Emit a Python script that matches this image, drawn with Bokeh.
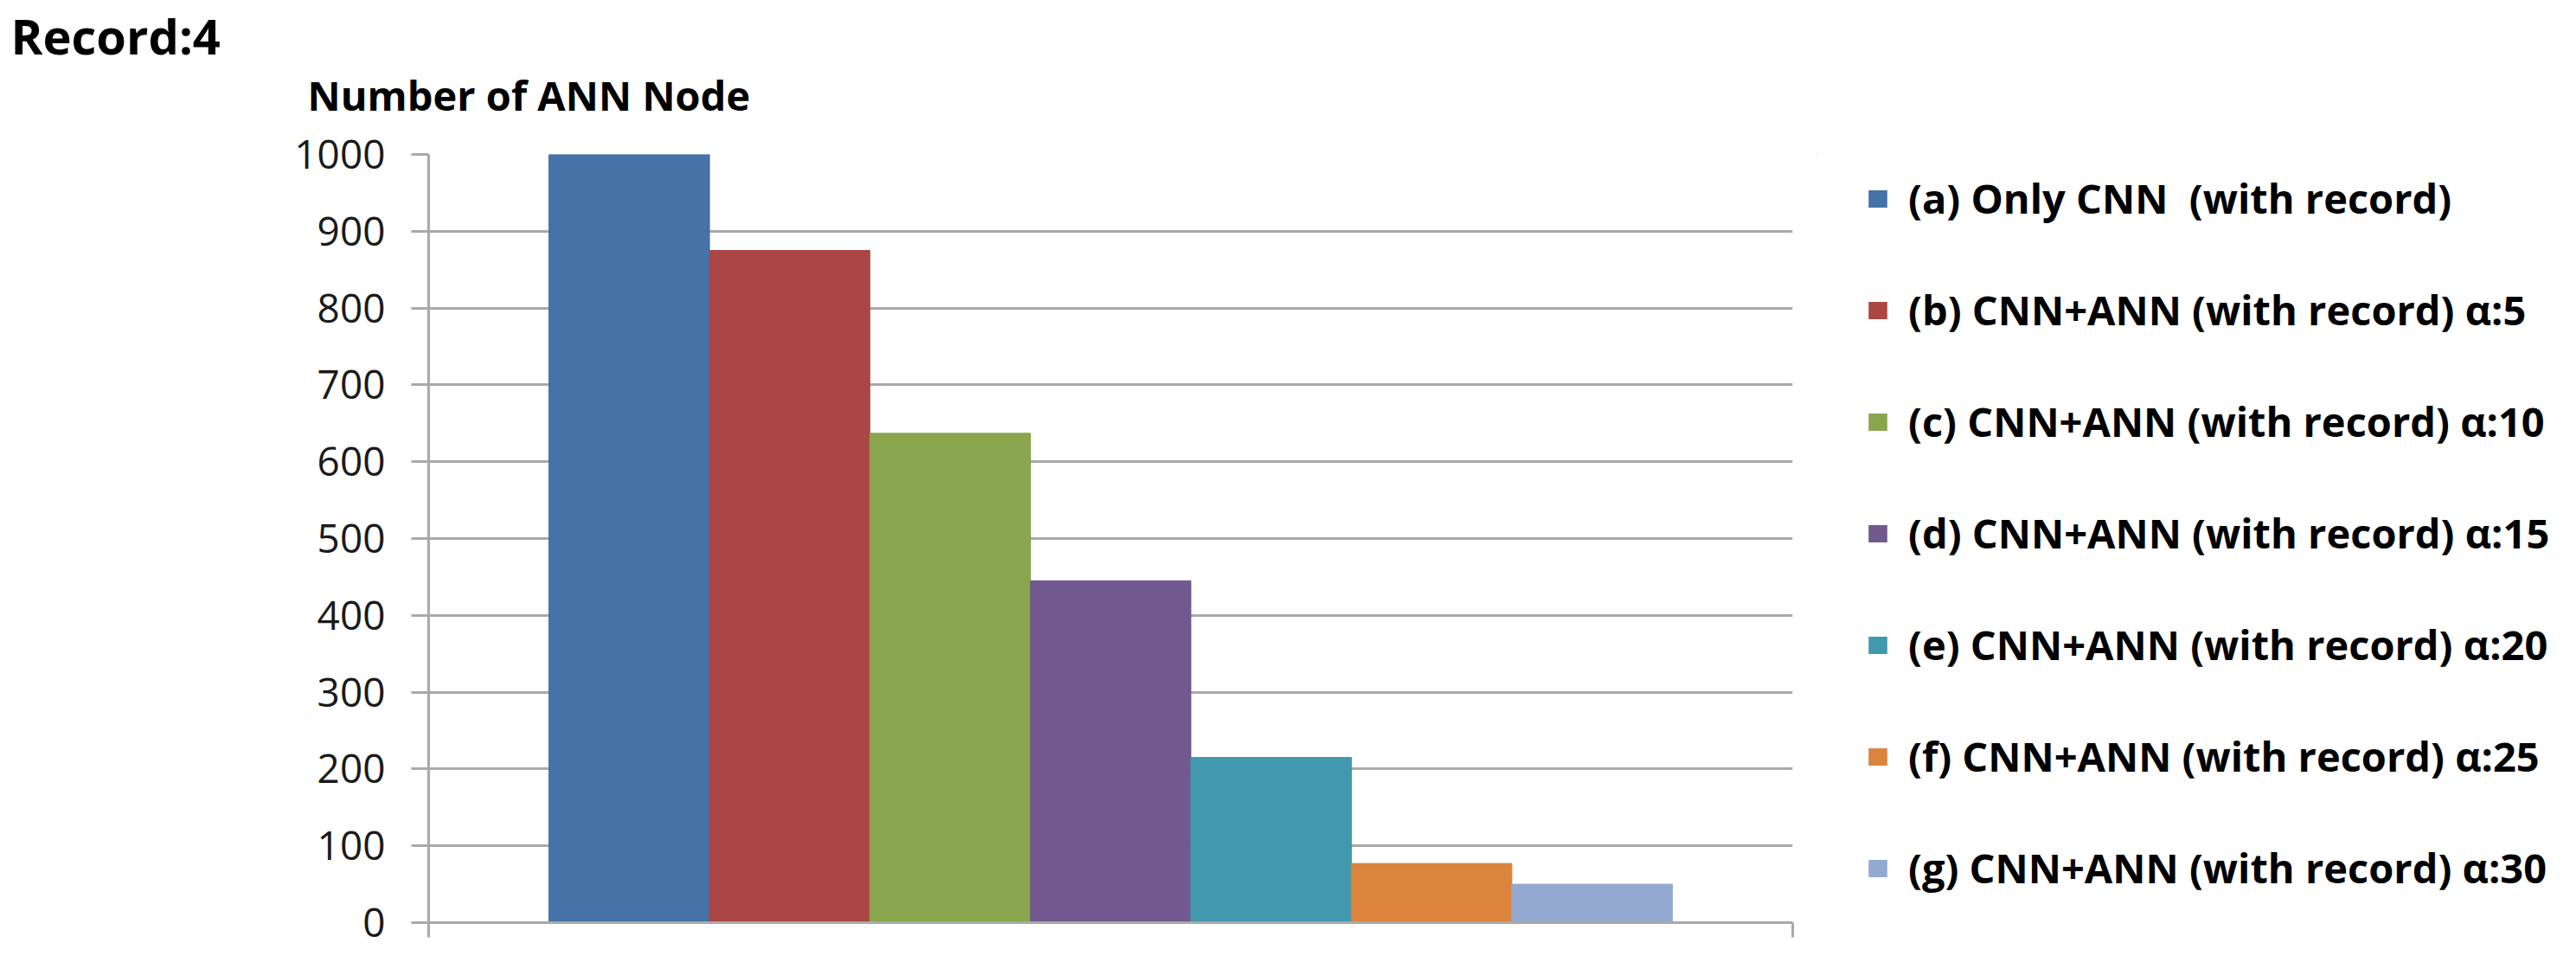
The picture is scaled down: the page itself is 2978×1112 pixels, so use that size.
from bokeh.plotting import figure
from bokeh.models import (Range1d, FixedTicker, Legend, LegendItem, Title, ColumnDataSource)
from bokeh.layouts import row
from bokeh.embed import file_html
from bokeh.resources import INLINE

# ---- data ----
chart_title = "Record:4"
y_title = "Number of ANN Node"
series = [
    "(a) Only CNN  (with record)",
    "(b) CNN+ANN (with record) α:5",
    "(c) CNN+ANN (with record) α:10",
    "(d) CNN+ANN (with record) α:15",
    "(e) CNN+ANN (with record) α:20",
    "(f) CNN+ANN (with record) α:25",
    "(g) CNN+ANN (with record) α:30",
]
values = [1000, 875, 637, 445, 215, 77, 50]
colors = ["#4572A7", "#AA4643", "#89A54E", "#71588F", "#4198AF", "#DB843D", "#93A9CF"]
y_ticks = [0, 100, 200, 300, 400, 500, 600, 700, 800, 900, 1000]

GRID = "#a9a9a9"
FONT = "Open Sans"

n = len(series)
gap = 1.5  # Excel gap width (150%) in bar widths
x0, x1 = -0.5 - gap / 2, n - 0.5 + gap / 2

H = 1100
MAIN_W = 2100
LEG_W = 2962 - MAIN_W
FRAME_L, FRAME_W = 495, 1577
FRAME_T, FRAME_H = 178, 888

p = figure(width=MAIN_W, height=H,
           x_range=Range1d(x0, x1), y_range=Range1d(0, 1000),
           output_backend="svg", toolbar_location=None,
           min_border_left=FRAME_L, min_border_right=MAIN_W - FRAME_L - FRAME_W,
           min_border_top=FRAME_T, min_border_bottom=H - FRAME_T - FRAME_H)
p.outline_line_color = None
p.background_fill_color = "white"
p.border_fill_color = "white"

src = ColumnDataSource(dict(idx=list(range(n)), series=series, value=values, color=colors))
r = p.vbar(x="idx", top="value", width=1.0, fill_color="color",
           line_color="color", line_width=1, source=src)

# category axis: only edge ticks, no labels
p.xgrid.visible = False
xa = p.xaxis[0]
xa.ticker = FixedTicker(ticks=[x0, x1])
xa.major_label_overrides = {x0: "", x1: ""}
xa.major_label_text_font_size = "1px"
xa.major_tick_out = 17
xa.major_tick_in = 0
xa.minor_tick_out = 0
xa.minor_tick_in = 0
xa.axis_line_color = GRID
xa.axis_line_width = 3
xa.major_tick_line_color = GRID
xa.major_tick_line_width = 3
xa.major_label_standoff = 0

# y axis
ya = p.yaxis[0]
ya.ticker = FixedTicker(ticks=y_ticks)
ya.major_tick_out = 20
ya.major_tick_in = 0
ya.minor_tick_out = 0
ya.minor_tick_in = 0
ya.axis_line_color = GRID
ya.axis_line_width = 3
ya.major_tick_line_color = GRID
ya.major_tick_line_width = 3
ya.major_label_text_font = FONT
ya.major_label_text_font_size = "46px"
ya.major_label_text_color = "#1a1a1a"
ya.major_label_standoff = 30

p.ygrid.grid_line_color = GRID
p.ygrid.grid_line_width = 3

# titles above the frame (first added sits closest to the frame)
p.add_layout(Title(text=y_title, align="left", offset=-(FRAME_L - 355),
                   vertical_align="top",
                   text_font=FONT, text_font_style="bold",
                   text_font_size="47px", text_color="black", standoff=69), "above")
p.add_layout(Title(text=chart_title, align="left", offset=-(FRAME_L - 12),
                   vertical_align="top",
                   text_font=FONT, text_font_style="bold",
                   text_font_size="56px", text_color="black", standoff=-74), "above")

# legend panel: a figure to the right holding the legend
lf = figure(width=LEG_W, height=H, x_range=Range1d(100, 200), y_range=Range1d(-3000, -2000),
            output_backend="svg", toolbar_location=None,
            min_border_left=0, min_border_right=0, min_border_top=0, min_border_bottom=0)
lf.axis.visible = False
lf.grid.visible = False
lf.outline_line_color = None
lr = lf.vbar(x="idx", top="value", width=1.0, fill_color="color",
             line_color=None, source=src)
items = [LegendItem(label=s, renderers=[lr], index=i) for i, s in enumerate(series)]
legend = Legend(items=items, location=(57, 31),
                label_text_font=FONT, label_text_font_style="bold",
                label_text_font_size="47px", label_text_color="black",
                glyph_width=27, glyph_height=25, label_standoff=22,
                spacing=65, padding=0, margin=0,
                border_line_color=None, background_fill_alpha=0)
lf.add_layout(legend)

layout = row(p, lf, spacing=0)
open("out.html", "w").write(file_html(layout, INLINE))
